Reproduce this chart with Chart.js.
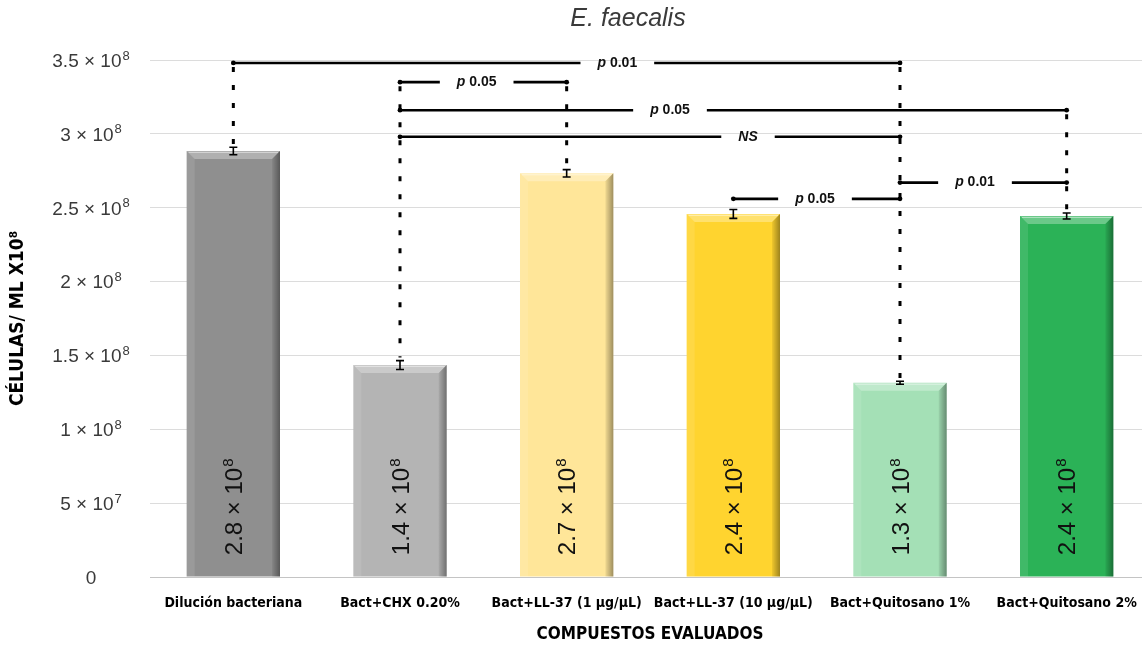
<!DOCTYPE html>
<html>
<head>
<meta charset="utf-8">
<script src="https://cdn.jsdelivr.net/npm/chart.js@4.4.1/dist/chart.umd.min.js"></script>
<style>
  html, body { margin: 0; padding: 0; background: #fff; overflow: hidden; }
  #wrap { position: relative; width: 1150px; height: 646px; }
</style>
</head>
<body>
<div id="wrap"><canvas id="c"></canvas></div>
<script>
// ---- data ----
const categories = ['Dilución bacteriana', 'Bact+CHX 0.20%', 'Bact+LL-37 (1 µg/µL)', 'Bact+LL-37 (10 µg/µL)', 'Bact+Quitosano 1%', 'Bact+Quitosano 2%'];
const cellCounts = [2.884e8, 1.435e8, 2.733e8, 2.458e8, 1.315e8, 2.444e8];
const cellCountErrors = [2.5e6, 3.0e6, 2.5e6, 3.0e6, 1.0e6, 2.0e6];
const yTickValues = [0, 5e7, 1e8, 1.5e8, 2e8, 2.5e8, 3e8, 3.5e8];
const yTickLabels = ['0', '5 × 10^7', '1 × 10^8', '1.5 × 10^8', '2 × 10^8', '2.5 × 10^8', '3 × 10^8', '3.5 × 10^8'];

// pairwise comparisons (category indices, bracket height, p-value)
const compFrom  = [0, 1, 1, 1, 3, 4];
const compTo    = [4, 2, 5, 4, 4, 5];
const compLevel = [3.48e8, 3.35e8, 3.16e8, 2.98e8, 2.56e8, 2.67e8];
const compP     = ['0.01', '0.05', '0.05', 'NS', '0.05', '0.01'];

// ---- styling ----
const barColors = ['#8f8f8f', '#b4b4b4', '#ffe699', '#ffd42f', '#a4e0b6', '#2bb257'];
const compLabelPos = [0.576, 0.46, 0.405, 0.696, 0.49, 0.45];
const SANS = "'Liberation Sans', Arial, sans-serif";
const NARROW = "'Liberation Sans Narrow', 'DejaVu Sans Condensed', sans-serif";

function splitSup(s) {
  const k = s.indexOf('^');
  return k < 0 ? [s, ''] : [s.slice(0, k), s.slice(k + 1)];
}

// text with a raised exponent, centred horizontally on cx
function drawSupText(ctx, base, sup, size, supSize, cx, cy) {
  ctx.font = size + 'px ' + SANS;
  const wb = ctx.measureText(base).width;
  ctx.font = supSize + 'px ' + SANS;
  const ws = sup ? ctx.measureText(sup).width + 1 : 0;
  const x0 = cx - (wb + ws) / 2;
  const baseY = cy + size * 0.36;
  ctx.textAlign = 'left';
  ctx.textBaseline = 'alphabetic';
  ctx.font = size + 'px ' + SANS;
  ctx.fillText(base, x0, baseY);
  if (sup) {
    ctx.font = supSize + 'px ' + SANS;
    ctx.fillText(sup, x0 + wb + 1, baseY - size * 0.38);
  }
}

function sciLabel(v) {
  const exp = Math.floor(Math.log10(v));
  const m = Math.floor(v / Math.pow(10, exp) * 10 + 1e-9) / 10;
  return [m.toFixed(1) + ' × 10', String(exp)];
}

const decorPlugin = {
  id: 'decor',
  afterDatasetsDraw(chart) {
    const ctx = chart.ctx;
    const ys = chart.scales.y;
    const meta = chart.getDatasetMeta(0);
    meta.data.forEach((bar, i) => {
      const p = bar.getProps(['x', 'y', 'base', 'width'], true);
      const l = p.x - p.width / 2, r = p.x + p.width / 2, top = p.y, base = p.base, b = 8;
      ctx.save();
      // bevel: top facet
      ctx.beginPath();
      ctx.moveTo(l, top); ctx.lineTo(r, top); ctx.lineTo(r - b, top + b); ctx.lineTo(l + b, top + b); ctx.closePath();
      ctx.fillStyle = 'rgba(255,255,255,0.30)'; ctx.fill();
      // left facet
      ctx.beginPath();
      ctx.moveTo(l, top); ctx.lineTo(l + b, top + b); ctx.lineTo(l + b, base); ctx.lineTo(l, base); ctx.closePath();
      ctx.fillStyle = 'rgba(255,255,255,0.10)'; ctx.fill();
      // right facet
      const g = ctx.createLinearGradient(r - b, 0, r, 0);
      g.addColorStop(0, 'rgba(0,0,0,0.06)'); g.addColorStop(1, 'rgba(0,0,0,0.38)');
      ctx.beginPath();
      ctx.moveTo(r, top); ctx.lineTo(r - b, top + b); ctx.lineTo(r - b, base); ctx.lineTo(r, base); ctx.closePath();
      ctx.fillStyle = g; ctx.fill();
      // highlight along top edge
      ctx.strokeStyle = 'rgba(255,255,255,0.45)'; ctx.lineWidth = 1;
      ctx.beginPath(); ctx.moveTo(l + 2, top + 1.5); ctx.lineTo(r - 2, top + 1.5); ctx.stroke();

      // error bar
      const v = cellCounts[i], e = cellCountErrors[i];
      const yHi = ys.getPixelForValue(v + e), yLo = ys.getPixelForValue(v - e);
      ctx.strokeStyle = '#000'; ctx.lineWidth = 1.6;
      ctx.beginPath();
      ctx.moveTo(p.x, yHi); ctx.lineTo(p.x, yLo);
      ctx.moveTo(p.x - 4, yHi); ctx.lineTo(p.x + 4, yHi);
      ctx.moveTo(p.x - 4, yLo); ctx.lineTo(p.x + 4, yLo);
      ctx.stroke();

      // value inside the bar, rotated
      const [mb, me] = sciLabel(v);
      ctx.translate(p.x, ys.getPixelForValue(4.75e7));
      ctx.rotate(-Math.PI / 2);
      ctx.fillStyle = '#111';
      drawSupText(ctx, mb, me, 24, 15, 0, 0);
      ctx.restore();
    });
  },
  afterDraw(chart) {
    const ctx = chart.ctx;
    const xs = chart.scales.x, ys = chart.scales.y;
    ctx.save();

    // dashed drop lines from brackets to the error bars
    ctx.strokeStyle = '#000'; ctx.lineWidth = 3; ctx.setLineDash([5, 13]);
    categories.forEach((c, i) => {
      let lvl = -Infinity;
      compFrom.forEach((f, k) => { if (f === i || compTo[k] === i) lvl = Math.max(lvl, compLevel[k]); });
      if (lvl === -Infinity) return;
      const y1 = ys.getPixelForValue(lvl);
      const y2 = ys.getPixelForValue(cellCounts[i] + cellCountErrors[i]) - 3;
      if (y2 - y1 < 15) return;
      const x = xs.getPixelForValue(i);
      ctx.beginPath(); ctx.moveTo(x, y1 + 4); ctx.lineTo(x, y2); ctx.stroke();
    });
    ctx.setLineDash([]);

    // brackets with p-value labels
    compFrom.forEach((f, k) => {
      const x1 = xs.getPixelForValue(f), x2 = xs.getPixelForValue(compTo[k]);
      const yy = ys.getPixelForValue(compLevel[k]);
      const isNS = compP[k] === 'NS';
      const italicPart = isNS ? 'NS' : 'p ';
      const plainPart = isNS ? '' : compP[k];
      ctx.font = 'italic bold 14px ' + SANS;
      const wi = ctx.measureText(italicPart).width;
      ctx.font = 'bold 14px ' + SANS;
      const wp = ctx.measureText(plainPart).width;
      const tw = wi + wp;
      const cx = x1 + (x2 - x1) * compLabelPos[k];
      const gap = tw / 2 + 17;
      ctx.strokeStyle = '#000'; ctx.lineWidth = 2.6;
      ctx.beginPath();
      ctx.moveTo(x1, yy); ctx.lineTo(cx - gap, yy);
      ctx.moveTo(cx + gap, yy); ctx.lineTo(x2, yy);
      ctx.stroke();
      ctx.fillStyle = '#000';
      [x1, x2].forEach(xx => { ctx.beginPath(); ctx.arc(xx, yy, 2.4, 0, Math.PI * 2); ctx.fill(); });
      ctx.fillStyle = '#111';
      ctx.textBaseline = 'middle'; ctx.textAlign = 'left';
      ctx.font = 'italic bold 14px ' + SANS;
      ctx.fillText(italicPart, cx - tw / 2, yy);
      ctx.font = 'bold 14px ' + SANS;
      ctx.fillText(plainPart, cx - tw / 2 + wi, yy);
    });

    // y tick labels with exponents
    ctx.fillStyle = '#3a3a3a';
    ys.ticks.forEach(t => {
      const idx = yTickValues.indexOf(t.value);
      if (idx < 0) return;
      const [b, s] = splitSup(yTickLabels[idx]);
      drawSupText(ctx, b, s, 19, 13, 91, ys.getPixelForValue(t.value));
    });

    // chart title
    ctx.fillStyle = '#3a3a3a';
    ctx.font = 'italic 25px ' + SANS;
    ctx.textAlign = 'center'; ctx.textBaseline = 'middle';
    ctx.fillText('E. faecalis', 628, 19);
    ctx.restore();
  }
};

new Chart(document.getElementById('c'), {
  type: 'bar',
  data: {
    labels: categories,
    datasets: [{
      data: cellCounts,
      backgroundColor: barColors,
      borderWidth: 0,
      categoryPercentage: 1,
      barPercentage: 0.56
    }]
  },
  options: {
    responsive: true,
    maintainAspectRatio: false,
    animation: false,
    layout: { padding: { top: 60, right: 0, left: 0, bottom: 0 } },
    plugins: { legend: { display: false }, tooltip: { enabled: false }, title: { display: false } },
    scales: {
      x: {
        grid: { display: false },
        border: { display: false },
        ticks: {
          color: '#000', padding: 10, maxRotation: 0, autoSkip: false,
          font: { family: NARROW, size: 14, weight: 'bold' }
        },
        title: {
          display: true, text: 'COMPUESTOS EVALUADOS', color: '#000',
          font: { family: NARROW, size: 17, weight: 'bold' },
          padding: { top: 0, bottom: 1 }
        },
        afterFit(s) { s.height = 69; }
      },
      y: {
        min: 0, max: 3.5e8,
        afterBuildTicks(s) { s.ticks = yTickValues.map(v => ({ value: v })); },
        ticks: { display: false },
        grid: {
          drawTicks: false,
          color: c => (c.tick && c.tick.value === 0 ? '#c4c4c4' : '#dcdcdc'),
          lineWidth: 1
        },
        border: { display: false },
        title: {
          display: true, text: 'CÉLULAS/ ML X10⁸', color: '#000',
          font: { family: NARROW, size: 19, weight: 'bold' },
          padding: { top: 7, bottom: 0 }
        },
        afterFit(s) { s.width = 150; }
      }
    }
  },
  plugins: [decorPlugin]
});
</script>
</body>
</html>
